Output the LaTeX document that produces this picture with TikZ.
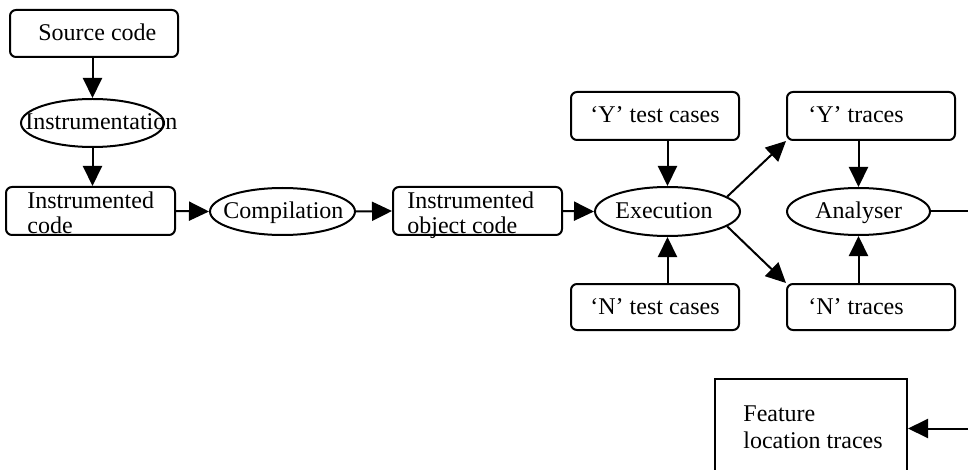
\documentclass[tikz,border=0pt]{standalone}
\usepackage{fontspec}
\setmainfont{Liberation Serif}
\usetikzlibrary{shapes.geometric,arrows.meta}
\begin{document}
\begin{tikzpicture}[x=0.5pt,y=-0.5pt,
  every node/.style={font=\fontsize{12}{13}\selectfont},
  box/.style={draw, line width=1pt, rounded corners=3pt, inner sep=0pt},
  sqbox/.style={draw, line width=1pt, inner sep=0pt},
  oval/.style={draw, ellipse, line width=1pt, inner sep=0pt},
  lbl/.style={inner sep=0pt, anchor=base west},
  arr/.style={line width=1pt, -{Triangle[length=10pt,width=9.5pt]}}]
\useasboundingbox (0,0) rectangle (968,470);
\clip (0,0) rectangle (968,470);

% shapes
\node[box, minimum width=84pt, minimum height=23.5pt] (src) at (94,33.5) {};
\node[oval, minimum width=71.5pt, minimum height=24pt] (instr) at (92.5,123) {};
\node[box, minimum width=84.5pt, minimum height=24pt] (icode) at (90.5,211) {};
\node[oval, minimum width=72.5pt, minimum height=23.5pt] (comp) at (282.5,211.5) {};
\node[box, minimum width=84.5pt, minimum height=24pt] (iobj) at (477.5,211) {};
\node[oval, minimum width=72.5pt, minimum height=24.5pt] (exec) at (667.5,211.5) {};
\node[box, minimum width=84pt, minimum height=24pt] (ytc) at (655,116) {};
\node[box, minimum width=84pt, minimum height=23pt] (ntc) at (655,307) {};
\node[box, minimum width=84pt, minimum height=24pt] (ytr) at (871,116) {};
\node[box, minimum width=84pt, minimum height=23pt] (ntr) at (871,307) {};
\node[oval, minimum width=71.5pt, minimum height=23.5pt] (anal) at (858.5,211.5) {};
\node[sqbox, minimum width=96pt, minimum height=49.5pt] (feat) at (811,428.5) {};

% texts
\node[lbl] (srcT) at (38,40.5) {Source code};
\node[lbl] (instrT) at (25,129.5) {Instrumentation};
\node[lbl] (icodeT1) at (27,208.5) {Instrumented};
\node[lbl] (icodeT2) at (27,234) {code};
\node[lbl] (compT) at (223,218.5) {Compilation};
\node[lbl] (iobjT1) at (407,208.5) {Instrumented};
\node[lbl] (iobjT2) at (407,234) {object code};
\node[lbl] (execT) at (615,218.5) {Execution};
\node[lbl] (ytcT) at (590,123) {‘Y’ test cases};
\node[lbl] (ntcT) at (590,314) {‘N’ test cases};
\node[lbl] (ytrT) at (808,123) {‘Y’ traces};
\node[lbl] (ntrT) at (808,314) {‘N’ traces};
\node[lbl] (analT) at (815,218.5) {Analyser};
\node[lbl] (featT1) at (743,421) {Feature};
\node[lbl] (featT2) at (743,448) {location traces};

% connectors
\draw[arr] (src.south -| instr.north) -- (instr.north);
\draw[arr] (instr.south) -- (instr.south |- icode.north);
\draw[arr] (icode.east) -- (comp.west);
\draw[arr] (comp.east) -- (iobj.west);
\draw[arr] (iobj.east) -- (exec.west);
\draw[arr] (exec.north |- ytc.south) -- (exec.north);
\draw[arr] (exec.south |- ntc.north) -- (exec.south);
\draw[arr] (exec.14) -- (ytr.south west);
\draw[arr] (exec.-14) -- (ntr.north west);
\draw[arr] (anal.north |- ytr.south) -- (anal.north);
\draw[arr] (anal.south |- ntr.north) -- (anal.south);
\draw[arr] (anal.east) -- ++(60,0) |- (feat.east);
\end{tikzpicture}
\end{document}
